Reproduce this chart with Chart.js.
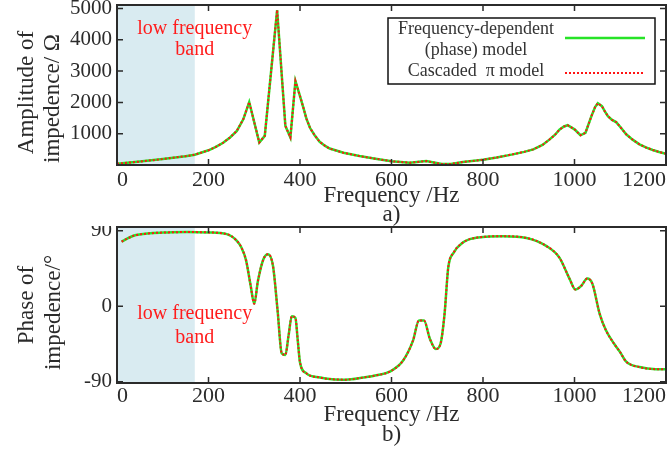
<!DOCTYPE html>
<html>
<head>
<meta charset="utf-8">
<script src="https://cdn.jsdelivr.net/npm/chart.js@4/dist/chart.umd.min.js"></script>
<style>
  html, body { margin: 0; padding: 0; background: #fff; }
  #wrap { position: relative; width: 671px; height: 450px; }
  canvas { position: absolute; left: 0; }
</style>
</head>
<body>
<div id="wrap">
  <canvas id="grafico-amplitud" width="671" height="226" style="top:0"></canvas>
  <canvas id="grafico-fase" width="671" height="224" style="top:226px"></canvas>
</div>
<script>
// amplitude of impedance (ohm) vs frequency (Hz)
const ampFreq = [0, 50, 100, 150, 170, 200, 215, 232, 247, 262, 276, 289, 311, 323, 350, 368, 379, 390, 400, 407, 414, 422, 432, 443, 455, 465, 495, 530, 565, 600, 640, 676, 710, 730, 756, 800, 830, 865, 890, 910, 930, 945, 957, 967, 977, 985, 1000, 1013, 1024, 1037, 1045, 1051, 1060, 1066, 1073, 1082, 1091, 1102, 1113, 1127, 1142, 1156, 1171, 1185, 1200];
const ampFD = [40, 110, 190, 280, 330, 470, 570, 710, 880, 1090, 1460, 2010, 720, 930, 4950, 1250, 880, 2680, 2200, 1850, 1480, 1180, 950, 740, 610, 525, 390, 285, 200, 120, 75, 125, 30, 35, 95, 170, 240, 340, 420, 500, 640, 810, 960, 1130, 1230, 1270, 1140, 950, 1030, 1560, 1850, 1970, 1880, 1720, 1560, 1440, 1370, 1180, 980, 810, 660, 560, 480, 415, 360];
const ampPi = [40, 110, 190, 280, 330, 470, 570, 710, 880, 1090, 1460, 2010, 720, 930, 4950, 1250, 880, 2680, 2200, 1850, 1480, 1180, 950, 740, 610, 525, 390, 285, 200, 120, 75, 125, 30, 35, 95, 170, 240, 340, 420, 500, 640, 810, 960, 1130, 1230, 1270, 1140, 950, 1030, 1560, 1850, 1970, 1880, 1720, 1560, 1440, 1370, 1180, 980, 810, 660, 560, 480, 415, 360];

// phase of impedance (degrees) vs frequency (Hz)
const phaseFreq = [10, 20, 36, 73, 110, 153, 200, 240, 262, 272, 282, 292, 300, 308, 320, 330, 341, 351, 360, 368, 375, 382, 390, 395, 400, 414, 444, 470, 500, 538, 570, 596, 625, 647, 660, 671, 684, 697, 707, 716, 724, 736, 756, 771, 807, 844, 895, 938, 967, 989, 1002, 1015, 1028, 1039, 1055, 1069, 1087, 1100, 1113, 1142, 1178, 1200];
const phaseFD = [77, 80, 84, 87, 88, 88.5, 88, 86, 78, 70, 55, 25, 3, 30, 56, 62, 48, -5, -56, -58, -35, -12, -14, -40, -67, -80, -85, -87, -87.5, -85, -82, -78, -65, -41, -17, -17, -39, -51, -45, -9, 46, 64, 76, 80, 83, 83.5, 81.5, 72, 58, 33, 20, 24.5, 33, 27, -9, -29, -45, -55, -66, -72.5, -75, -75];
const phasePi = [77, 80, 84, 87, 88, 88.5, 88, 86, 78, 70, 55, 25, 3, 30, 56, 62, 48, -5, -56, -58, -35, -12, -14, -40, -67, -80, -85, -87, -87.5, -85, -82, -78, -65, -41, -17, -17, -39, -51, -45, -9, 46, 64, 76, 80, 83, 83.5, 81.5, 72, 58, 33, 20, 24.5, 33, 27, -9, -29, -45, -55, -66, -72.5, -75, -75];

const seriesLabels = ['Frequency-dependent (phase) model', 'Cascaded \u03c0 model'];
const bandRange = [0, 170];
const bandLabel = ['low frequency', 'band'];
const xTicks = [0, 200, 400, 600, 800, 1000, 1200];
const ampTicks = [1000, 2000, 3000, 4000, 5000];
const phaseTicks = [-90, 0, 90];

const serif = '"Liberation Serif", "Times New Roman", serif';
const ink = '#2b2b2b';
Chart.defaults.font.family = serif;
Chart.defaults.color = ink;

// frame, inner ticks, shaded band, band text, y title, boxed legend
const decoPlugin = {
  id: 'deco',
  beforeDatasetsDraw(chart, args, o) {
    const {ctx, chartArea: a, scales: {x}} = chart;
    const x0 = x.getPixelForValue(bandRange[0]);
    const x1 = x.getPixelForValue(bandRange[1]);
    ctx.save();
    ctx.fillStyle = '#d9ebf1';
    ctx.fillRect(x0, a.top, x1 - x0, a.bottom - a.top);
    ctx.restore();
  },
  afterDatasetsDraw(chart, args, o) {
    const {ctx, chartArea: a, scales: {x, y}} = chart;
    ctx.save();
    // band text
    ctx.fillStyle = '#ff1c1c';
    ctx.font = '20px ' + serif;
    ctx.textAlign = 'center';
    ctx.textBaseline = 'middle';
    bandLabel.forEach((t, i) => {
      ctx.fillText(t, x.getPixelForValue(bandRange[1]), y.getPixelForValue(o.bandTextY[i]));
    });
    // inner ticks
    ctx.strokeStyle = ink;
    ctx.lineWidth = 1.5;
    ctx.beginPath();
    xTicks.forEach(v => {
      const px = x.getPixelForValue(v);
      if (px <= a.left + 1 || px >= a.right - 1) return;
      ctx.moveTo(px, a.bottom); ctx.lineTo(px, a.bottom - 6);
      ctx.moveTo(px, a.top); ctx.lineTo(px, a.top + 6);
    });
    o.yTicks.forEach(v => {
      const py = y.getPixelForValue(v);
      if (py <= a.top + 1 || py >= a.bottom - 1) return;
      ctx.moveTo(a.left, py); ctx.lineTo(a.left + 6, py);
      ctx.moveTo(a.right, py); ctx.lineTo(a.right - 6, py);
    });
    ctx.stroke();
    // frame
    ctx.lineWidth = 2;
    ctx.strokeRect(a.left, a.top, a.right - a.left, a.bottom - a.top);
    ctx.restore();
  },
  afterDraw(chart, args, o) {
    const ctx = chart.ctx;
    ctx.save();
    // rotated y title
    ctx.fillStyle = ink;
    ctx.font = '23px ' + serif;
    ctx.textAlign = 'center';
    ctx.textBaseline = 'middle';
    o.yTitle.forEach((t, i) => {
      ctx.save();
      ctx.translate(o.yTitleX[i], o.yTitleY[i]);
      ctx.rotate(-Math.PI / 2);
      ctx.fillText(t, 0, 0);
      ctx.restore();
    });
    if (o.legend) {
      const ds = chart.data.datasets;
      ctx.strokeStyle = '#111';
      ctx.lineWidth = 1.5;
      ctx.strokeRect(388, 18, 267, 66);
      ctx.font = '18px ' + serif;
      ctx.fillStyle = '#333';
      ctx.fillText('Frequency-dependent', 476, 29);
      ctx.fillText('(phase) model', 476, 50.5);
      ctx.fillText('Cascaded  \u03c0 model', 476, 71.5);
      // samples
      const green = ds.find(d => d.label === seriesLabels[0]);
      const red = ds.find(d => d.label === seriesLabels[1]);
      ctx.beginPath();
      ctx.strokeStyle = green.borderColor;
      ctx.lineWidth = green.borderWidth;
      ctx.moveTo(565, 38); ctx.lineTo(645, 38);
      ctx.stroke();
      ctx.beginPath();
      ctx.strokeStyle = red.borderColor;
      ctx.lineWidth = red.borderWidth;
      ctx.setLineDash(red.borderDash);
      ctx.moveTo(565, 73); ctx.lineTo(645, 73);
      ctx.stroke();
    }
    ctx.restore();
  }
};

function series(freq, vals) {
  return freq.map((f, i) => ({x: f, y: vals[i]}));
}

function datasetsFor(freq, fd, pi, smooth) {
  const mode = smooth ? 'monotone' : 'default';
  return [
    {
      label: seriesLabels[0],
      data: series(freq, fd),
      borderColor: '#27e327',
      borderWidth: 2.5,
      pointRadius: 0,
      tension: smooth ? 0.4 : 0,
      cubicInterpolationMode: mode,
      order: 1
    },
    {
      label: seriesLabels[1],
      data: series(freq, pi),
      borderColor: '#ff1414',
      borderWidth: 2,
      borderDash: [2, 2],
      pointRadius: 0,
      tension: smooth ? 0.4 : 0,
      cubicInterpolationMode: mode,
      order: 0
    }
  ];
}

function xScale(title, height, tickPad, titlePad) {
  return {
    type: 'linear',
    min: 0,
    max: 1200,
    afterBuildTicks: s => { s.ticks = xTicks.map(v => ({value: v})); },
    ticks: {
      align: 'inner',
      padding: tickPad,
      maxRotation: 0,
      autoSkip: false,
      color: ink,
      font: {family: serif, size: 22, lineHeight: 1},
      callback: v => String(v)
    },
    grid: {display: false, drawTicks: false},
    border: {display: false},
    title: {
      display: true,
      text: title,
      color: ink,
      font: {family: serif, size: 23, lineHeight: 0.85},
      padding: {top: 0, bottom: titlePad}
    },
    afterFit: s => { s.height = height; s.paddingLeft = 0; s.paddingRight = 0; }
  };
}

function yScale(min, max, ticks, hideZero) {
  return {
    type: 'linear',
    min: min,
    max: max,
    afterBuildTicks: s => { s.ticks = ticks.map(v => ({value: v})); },
    ticks: {
      padding: 5,
      color: ink,
      font: {family: serif, size: 21},
      callback: v => (hideZero && v === 0) ? '' : String(v)
    },
    grid: {display: false, drawTicks: false},
    border: {display: false},
    afterFit: s => { s.width = 117; s.paddingTop = 0; s.paddingBottom = 0; }
  };
}

new Chart(document.getElementById('grafico-amplitud'), {
  type: 'line',
  data: {datasets: datasetsFor(ampFreq, ampFD, ampPi, false)},
  options: {
    responsive: false,
    animation: false,
    layout: {padding: {left: 0, right: 5, top: 5, bottom: 0}},
    scales: {
      x: xScale(['Frequency /Hz', 'a)'], 61, 4, 1.2),
      y: yScale(0, 5110, ampTicks, true)
    },
    plugins: {
      legend: {display: false},
      tooltip: {enabled: false},
      deco: {
        bandTextY: [4358, 3665],
        yTicks: ampTicks,
        yTitle: ['Amplitude of', 'impedence/ \u03a9'],
        yTitleX: [27, 53],
        yTitleY: [92.5, 98.5],
        legend: true
      }
    }
  },
  plugins: [decoPlugin]
});

new Chart(document.getElementById('grafico-fase'), {
  type: 'line',
  data: {datasets: datasetsFor(phaseFreq, phaseFD, phasePi, true)},
  options: {
    responsive: false,
    animation: false,
    layout: {padding: {left: 0, right: 5, top: 1, bottom: 0}},
    scales: {
      x: xScale(['Frequency /Hz', 'b)'], 67, 2, 5.5),
      y: yScale(-91.5, 94.5, phaseTicks, false)
    },
    plugins: {
      legend: {display: false},
      tooltip: {enabled: false},
      deco: {
        bandTextY: [-9.4, -37.3],
        yTicks: phaseTicks,
        yTitle: ['Phase of', 'impedence/\u00b0'],
        yTitleX: [26.5, 54],
        yTitleY: [79, 86.5],
        legend: false
      }
    }
  },
  plugins: [decoPlugin]
});
</script>
</body>
</html>
